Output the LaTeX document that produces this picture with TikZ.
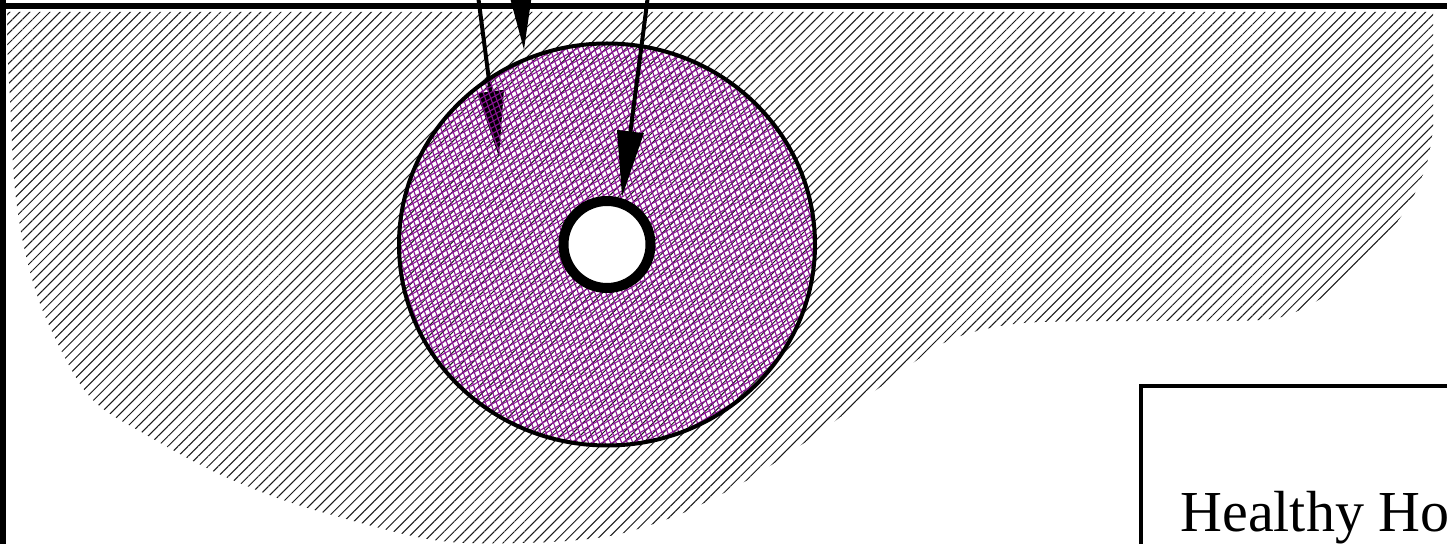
\documentclass[tikz,border=0pt]{standalone}
\usepackage{fontspec}
\setmainfont{Liberation Serif}
\usetikzlibrary{patterns.meta,arrows.meta}
\definecolor{meshpurple}{RGB}{140,20,150}
\definecolor{hatchgray}{RGB}{25,25,25}
\tikzset{
  hatchzone/.style={pattern={Lines[angle=45,distance=3.55pt,line width=0.5pt]},pattern color=hatchgray},
  meshA/.style={pattern={Lines[angle=30,distance=2.6pt,line width=0.55pt]},pattern color=meshpurple},
  meshB/.style={pattern={Lines[angle=110,distance=2.6pt,line width=0.55pt]},pattern color=meshpurple},
  bigarrow/.style={line width=2pt,-{Triangle[length=33pt,width=13pt]}},
  frameline/.style={line width=3.3pt},
  ringline/.style={line width=5pt,fill=white},
  boxline/.style={line width=2pt},
}
\begin{document}
\begin{tikzpicture}[x=0.5pt,y=-0.5pt]
\useasboundingbox (0,0) rectangle (1447,544);
\clip (0,0) rectangle (1447,544);
\fill[white] (0,0) rectangle (1447,544);
% hatched region
\fill[hatchzone] (7,12) -- (1433,12) -- plot[smooth,tension=0.55] coordinates {
 (1433,130) (1427,163) (1413,197) (1395,225) (1370,255) (1340,285) (1300,310) (1260,320)
 (1150,321) (1040,322) (990,328) (950,340) (920,358) (860,402) (820,432) (756,475) (710,500)
 (673,517) (615,535) (550,542) (467,543) (417,537) (350,520) (283,500) (217,473) (150,437)
 (90,397) (48,323) (27,260) (15,190) (10,100) (7,40)} -- cycle;
% coordinates
\coordinate (aS) at (476,-20);
\coordinate (aT) at (499,157);
\coordinate (bS) at (512,-150);
\coordinate (bT) at (524,50);
\coordinate (cS) at (650,-20);
\coordinate (cT) at (622,197);
\coordinate (ctr) at (607,244.5);
% arrow under the disc pattern
\draw[bigarrow] (aS) -- (aT);
% disc
\fill[meshA] (ctr) ellipse [x radius=208, y radius=201];
\fill[meshB] (ctr) ellipse [x radius=208, y radius=201];
\draw[line width=2pt] (ctr) ellipse [x radius=208, y radius=201];
% inner ring
\draw[ringline] (ctr) circle [radius=43.5];
% arrows on top
\draw[bigarrow] (bS) -- (bT);
\draw[bigarrow] (cS) -- (cT);
% frame lines
\draw[frameline] (-5,6) -- (1452,6);
\draw[frameline] (3,-5) -- (3,560);
% box with text
\draw[boxline] (1141,386) rectangle (1520,620);
\node[anchor=base west,inner sep=0pt,font=\fontsize{29}{35}\selectfont] (label) at (1180,532) {Healthy Ho};
\end{tikzpicture}
\end{document}
